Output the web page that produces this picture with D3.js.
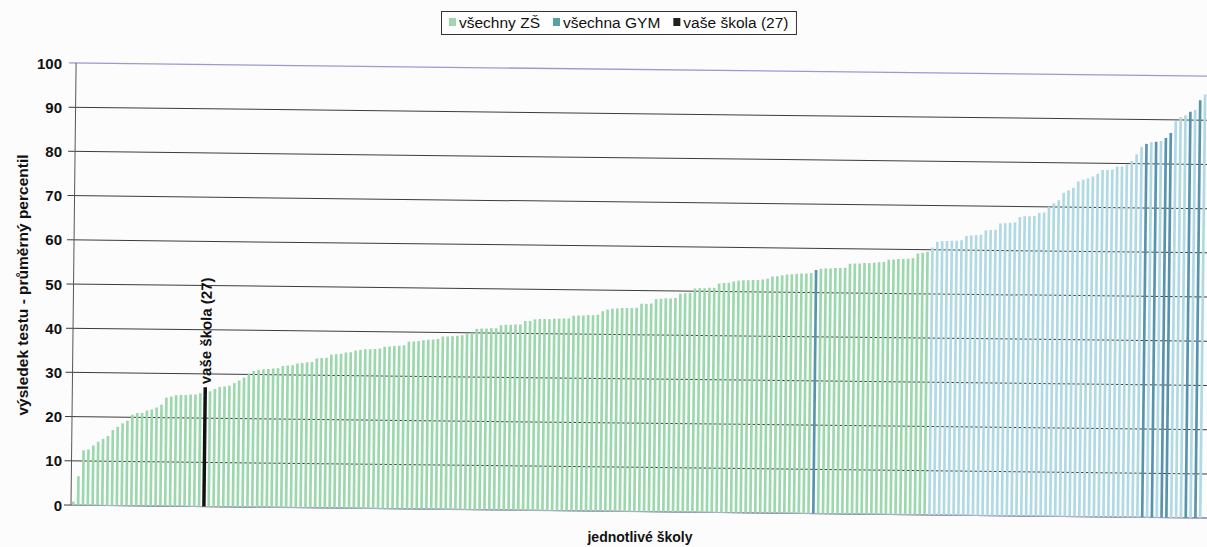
<!DOCTYPE html>
<html><head><meta charset="utf-8">
<script src="https://cdn.jsdelivr.net/npm/d3@7"></script>
<style>
body{margin:0;background:#fcfcfc;}
svg{display:block;font-family:"Liberation Sans",Arial,sans-serif;}
</style>
</head><body>
<svg id="c" width="1207" height="547"></svg>
<script>
// ---- data ----
const values = [
0.8,6.5,12.4,12.6,13.5,14.4,15.0,15.7,17.1,17.8,
18.6,19.2,20.6,21.0,21.0,21.6,21.8,22.3,22.9,24.5,
24.8,25.1,25.2,25.2,25.3,25.3,25.6,27.0,26.1,26.6,
27.1,27.2,27.4,28.0,28.6,29.3,30.2,30.8,31.0,31.2,
31.3,31.4,31.5,32.0,32.1,32.2,32.6,32.7,32.9,33.0,
33.8,33.9,34.0,34.7,34.8,34.9,35.2,35.3,35.7,35.8,
36.0,36.0,36.1,36.2,36.6,36.7,36.8,36.9,37.0,37.8,
37.9,38.0,38.2,38.3,38.4,38.5,39.1,39.1,39.2,39.3,
39.4,39.9,40.0,40.9,41.0,41.0,41.1,41.1,41.8,41.9,
41.9,42.0,42.0,42.8,42.8,43.2,43.3,43.3,43.3,43.4,
43.4,43.5,43.5,44.1,44.2,44.2,44.3,44.3,44.4,45.2,
45.6,45.8,45.9,46.0,46.0,46.0,46.1,47.0,47.0,47.1,
48.1,48.2,48.3,48.3,48.4,49.4,49.5,49.6,50.6,50.7,
50.7,50.8,50.8,51.8,51.9,52.0,52.3,52.5,52.6,52.6,
52.7,52.7,52.8,53.0,53.5,53.6,53.8,54.0,54.1,54.2,
54.3,54.3,54.4,55.1,55.4,55.5,55.5,55.6,55.6,55.7,
56.6,56.7,56.7,56.8,56.8,56.9,57.0,57.1,57.6,57.7,
57.8,57.8,57.9,58.0,59.1,59.3,59.5,60.5,61.8,62.0,
62.0,62.1,62.1,62.2,63.2,63.3,63.4,63.5,64.5,64.6,
64.7,66.1,66.2,66.3,66.4,67.6,67.8,67.8,67.9,68.6,
68.7,70.0,70.8,71.5,73.2,73.8,74.4,75.8,76.2,76.5,
77.0,77.6,78.5,78.5,78.6,79.3,79.3,79.8,80.6,82.1,
83.8,84.5,84.9,85.0,85.2,85.9,87.0,89.7,90.6,91.1,
91.9,92.3,94.5,95.8
];
const schools = values.map((v, i) => i + 1);          // one category per school
const gymSchools = [154, 222, 224, 226, 227, 231, 233]; // gymnasium bars
const ownSchool = 28;                                    // "vaše škola"
const yTicks = [0, 10, 20, 30, 40, 50, 60, 70, 80, 90, 100];
const legendLabels = ["všechny ZŠ", "všechna GYM", "vaše škola (27)"];
const ownLabel = "vaše škola (27)";
const yTitle = "výsledek testu - průměrný percentil";
const xTitle = "jednotlivé školy";

// ---- styles ----
const colZS = "#9dd7ae", colZS2 = "#b0d9e4", colGYM = "#5893ad", colOwn = "#111111";
const legendCols = ["#9dd7ae", "#5a9ea6", "#222222"];

const svg = d3.select("#c");
svg.append("rect").attr("width", 1207).attr("height", 547).attr("fill", "#fcfcfc");

const x = d3.scaleBand().domain(schools).range([71, 1202.6]).paddingInner(0.45).paddingOuter(0.2);
const y = d3.scaleLinear().domain([0, 100]).range([505, 63]);

const plot = svg.append("g").attr("transform", "rotate(0.66,71,505)");

// gridlines (behind bars) with tick marks
plot.append("g").selectAll("line").data(yTicks).join("line")
  .attr("x1", 64).attr("x2", 1240)
  .attr("y1", d => y(d)).attr("y2", d => y(d))
  .attr("stroke", d => d === 100 ? "#9a9ad0" : "#3c3c3c")
  .attr("stroke-width", d => d === 100 ? 1.3 : 1);

// baseline
plot.append("line").attr("x1", 71).attr("x2", 1240).attr("y1", y(0)).attr("y2", y(0))
  .attr("stroke", "#a8a8c8").attr("stroke-width", 1.2);

function kind(s) {
  if (s === ownSchool) return "own";
  if (gymSchools.includes(s)) return "gym";
  return "zs";
}

plot.append("g").selectAll("rect").data(schools).join("rect")
  .attr("x", s => kind(s) === "own" ? x(s) - 0.4 : x(s))
  .attr("width", s => kind(s) === "own" ? x.bandwidth() + 0.8 : x.bandwidth())
  .attr("y", s => y(values[s - 1]))
  .attr("height", s => y(0) - y(values[s - 1]))
  .attr("fill", s => {
    const k = kind(s);
    if (k === "own") return colOwn;
    if (k === "gym") return colGYM;
    return s <= 177 ? colZS : colZS2;
  });

// y axis line
plot.append("line").attr("x1", 71).attr("x2", 71).attr("y1", y(0)).attr("y2", y(100))
  .attr("stroke", "#555").attr("stroke-width", 1);

// label over own school bar
const ox = x(ownSchool) + x.bandwidth() / 2 + 5.5;
plot.append("text")
  .attr("transform", `translate(${ox},${y(values[ownSchool - 1]) - 3}) rotate(-90)`)
  .attr("font-size", 15).attr("font-weight", "bold").attr("fill", "#111")
  .text(ownLabel);

// tick labels
svg.append("g").selectAll("text").data(yTicks).join("text")
  .attr("x", 62).attr("y", d => y(d) + 5.5)
  .attr("text-anchor", "end").attr("font-size", 15).attr("font-weight", "bold").attr("fill", "#111")
  .text(d => d);

// axis titles
svg.append("text").attr("transform", "translate(28,285) rotate(-90)")
  .attr("text-anchor", "middle").attr("font-size", 15.5).attr("font-weight", "bold").attr("fill", "#111")
  .text(yTitle);
svg.append("text").attr("x", 640).attr("y", 542)
  .attr("text-anchor", "middle").attr("font-size", 14).attr("font-weight", "bold").attr("fill", "#111")
  .text(xTitle);

// legend
const lg = svg.append("g");
const box = lg.append("rect").attr("x", 441.5).attr("y", 11.5).attr("height", 23)
  .attr("fill", "#fff").attr("stroke", "#333").attr("stroke-width", 1);
let cx = 449;
legendLabels.forEach((lab, i) => {
  lg.append("rect").attr("x", cx).attr("y", 18).attr("width", 7).attr("height", 8).attr("fill", legendCols[i]);
  const t = lg.append("text").attr("x", cx + 10).attr("y", 28).attr("font-size", 15.5).attr("fill", "#111").text(lab);
  const w = t.node().getComputedTextLength();
  cx = cx + 10 + w + 13;
});
box.attr("width", cx - 13 + 8 - 441.5);
</script>
</body></html>
